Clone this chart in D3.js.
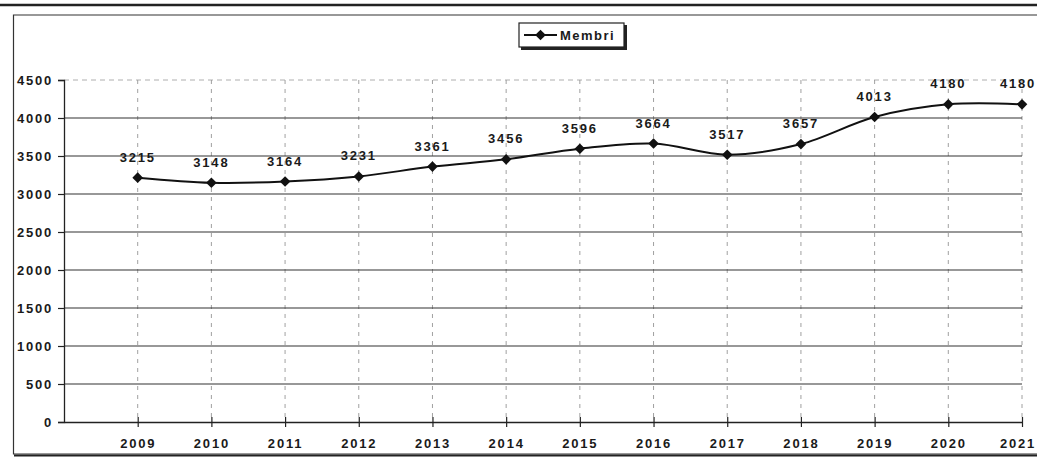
<!DOCTYPE html>
<html><head><meta charset="utf-8">
<script src="https://cdn.jsdelivr.net/npm/d3@7"></script>
<style>
body{margin:0;background:#fff;}
text{font-family:"Liberation Sans",Arial,sans-serif;font-weight:bold;fill:#1a1a1a;}
</style></head>
<body><svg id="c" width="1037" height="457"></svg>
<script>
const years = [2009,2010,2011,2012,2013,2014,2015,2016,2017,2018,2019,2020,2021];
const membri = [3215,3148,3164,3231,3361,3456,3596,3664,3517,3657,4013,4180,4180];
const yTicks = [0,500,1000,1500,2000,2500,3000,3500,4000,4500];
const seriesName = "Membri";

(function(){
const svg = d3.select("#c");
const W = 1037, H = 457;
const pL = 64, pR = 1022, pT = 80, pB = 422;
const FS = "13px", LS = "1.8px";

const x = d3.scaleLinear().domain([2008, 2021]).range([pL, pR]);
const y = d3.scaleLinear().domain([0, 4500]).range([pB, pT]);

// keep a centred label inside the page
function clampText(sel){
  sel.each(function(){
    const bb = this.getBBox();
    const ctm = this.getCTM();
    const right = bb.x + bb.width + (ctm ? ctm.e : 0);
    if (right > W - 1) {
      const cur = +d3.select(this).attr("x") || 0;
      d3.select(this).attr("x", cur - (right - (W - 1)));
    }
  });
}

// page top rule
svg.append("line").attr("x1",0).attr("x2",W).attr("y1",5).attr("y2",5)
  .attr("stroke","#222").attr("stroke-width",2.5);
// chart frame
svg.append("path").attr("d",`M${W+5},15 H13.5 V454 H${W+5}`)
  .attr("fill","none").attr("stroke","#333").attr("stroke-width",1.2);
svg.append("line").attr("x1",14).attr("x2",W).attr("y1",455.5).attr("y2",455.5)
  .attr("stroke","#222").attr("stroke-width",2);

// vertical dashed gridlines
svg.append("g").selectAll("line").data(years).join("line")
  .attr("x1",d=>x(d)).attr("x2",d=>x(d)).attr("y1",pT).attr("y2",pB)
  .attr("stroke","#888").attr("stroke-width",0.8).attr("stroke-dasharray","4,5");

// horizontal gridlines
svg.append("g").selectAll("line").data(yTicks.filter(d=>d>0)).join("line")
  .attr("x1",pL).attr("x2",pR).attr("y1",d=>y(d)).attr("y2",d=>y(d))
  .attr("stroke",d=>d===4500?"#999":"#333")
  .attr("stroke-width",d=>d===4500?0.8:1.2)
  .attr("stroke-dasharray",d=>d===4500?"5,4":null);

// y axis
const yAxis = d3.axisLeft(y).tickValues(yTicks).tickFormat(d3.format("d")).tickSize(6).tickPadding(5);
const gy = svg.append("g").attr("transform",`translate(${pL},0)`).call(yAxis);
gy.select(".domain").attr("stroke","#222").attr("stroke-width",1.3);
gy.selectAll(".tick line").attr("stroke","#222").attr("stroke-width",1.2);
gy.selectAll(".tick text").style("font-size",FS).style("letter-spacing",LS)
  .attr("fill","#1a1a1a").attr("font-family",null);

// x axis
const xAxis = d3.axisBottom(x).tickValues(years).tickFormat(d3.format("d"))
  .tickSizeInner(10).tickSizeOuter(0).tickPadding(7);
const gx = svg.append("g").attr("transform",`translate(0,${pB})`).call(xAxis);
gx.select(".domain").attr("stroke","#222").attr("stroke-width",1.3);
gx.selectAll(".tick line").attr("y1",-5).attr("y2",5).attr("stroke","#222").attr("stroke-width",1.2);
gx.selectAll(".tick text").style("font-size",FS).style("letter-spacing",LS)
  .attr("fill","#1a1a1a").attr("font-family",null).call(clampText);

// series line
const data = years.map((yr,i)=>({yr, v: membri[i]}));
const line = d3.line().x(d=>x(d.yr)).y(d=>y(d.v)).curve(d3.curveCatmullRom.alpha(0));
svg.append("path").datum(data).attr("d",line)
  .attr("fill","none").attr("stroke","#111").attr("stroke-width",2);

const diamond = d3.symbol().type(d3.symbolDiamond2).size(72);
svg.append("g").selectAll("path").data(data).join("path")
  .attr("d",diamond).attr("transform",d=>`translate(${x(d.yr)},${y(d.v)})`)
  .attr("fill","#111");

svg.append("g").selectAll("text").data(data).join("text")
  .attr("x",d=>x(d.yr)).attr("y",d=>y(d.v)-16)
  .attr("text-anchor","middle").style("font-size",FS).style("letter-spacing",LS)
  .text(d=>d.v).call(clampText);

// legend
const lg = svg.append("g").attr("transform","translate(519,23)");
lg.append("rect").attr("x",2).attr("y",2).attr("width",106).attr("height",25).attr("fill","#222");
lg.append("rect").attr("x",0).attr("y",0).attr("width",105).attr("height",24)
  .attr("fill","#fff").attr("stroke","#222").attr("stroke-width",1.2);
lg.append("line").attr("x1",5).attr("x2",38).attr("y1",12).attr("y2",12)
  .attr("stroke","#111").attr("stroke-width",2);
lg.append("path").attr("d",diamond).attr("transform","translate(21.5,12)").attr("fill","#111");
lg.append("text").attr("x",41).attr("y",16.5).style("font-size",FS).style("letter-spacing","1.5px")
  .text(seriesName);
})();
</script></body></html>
